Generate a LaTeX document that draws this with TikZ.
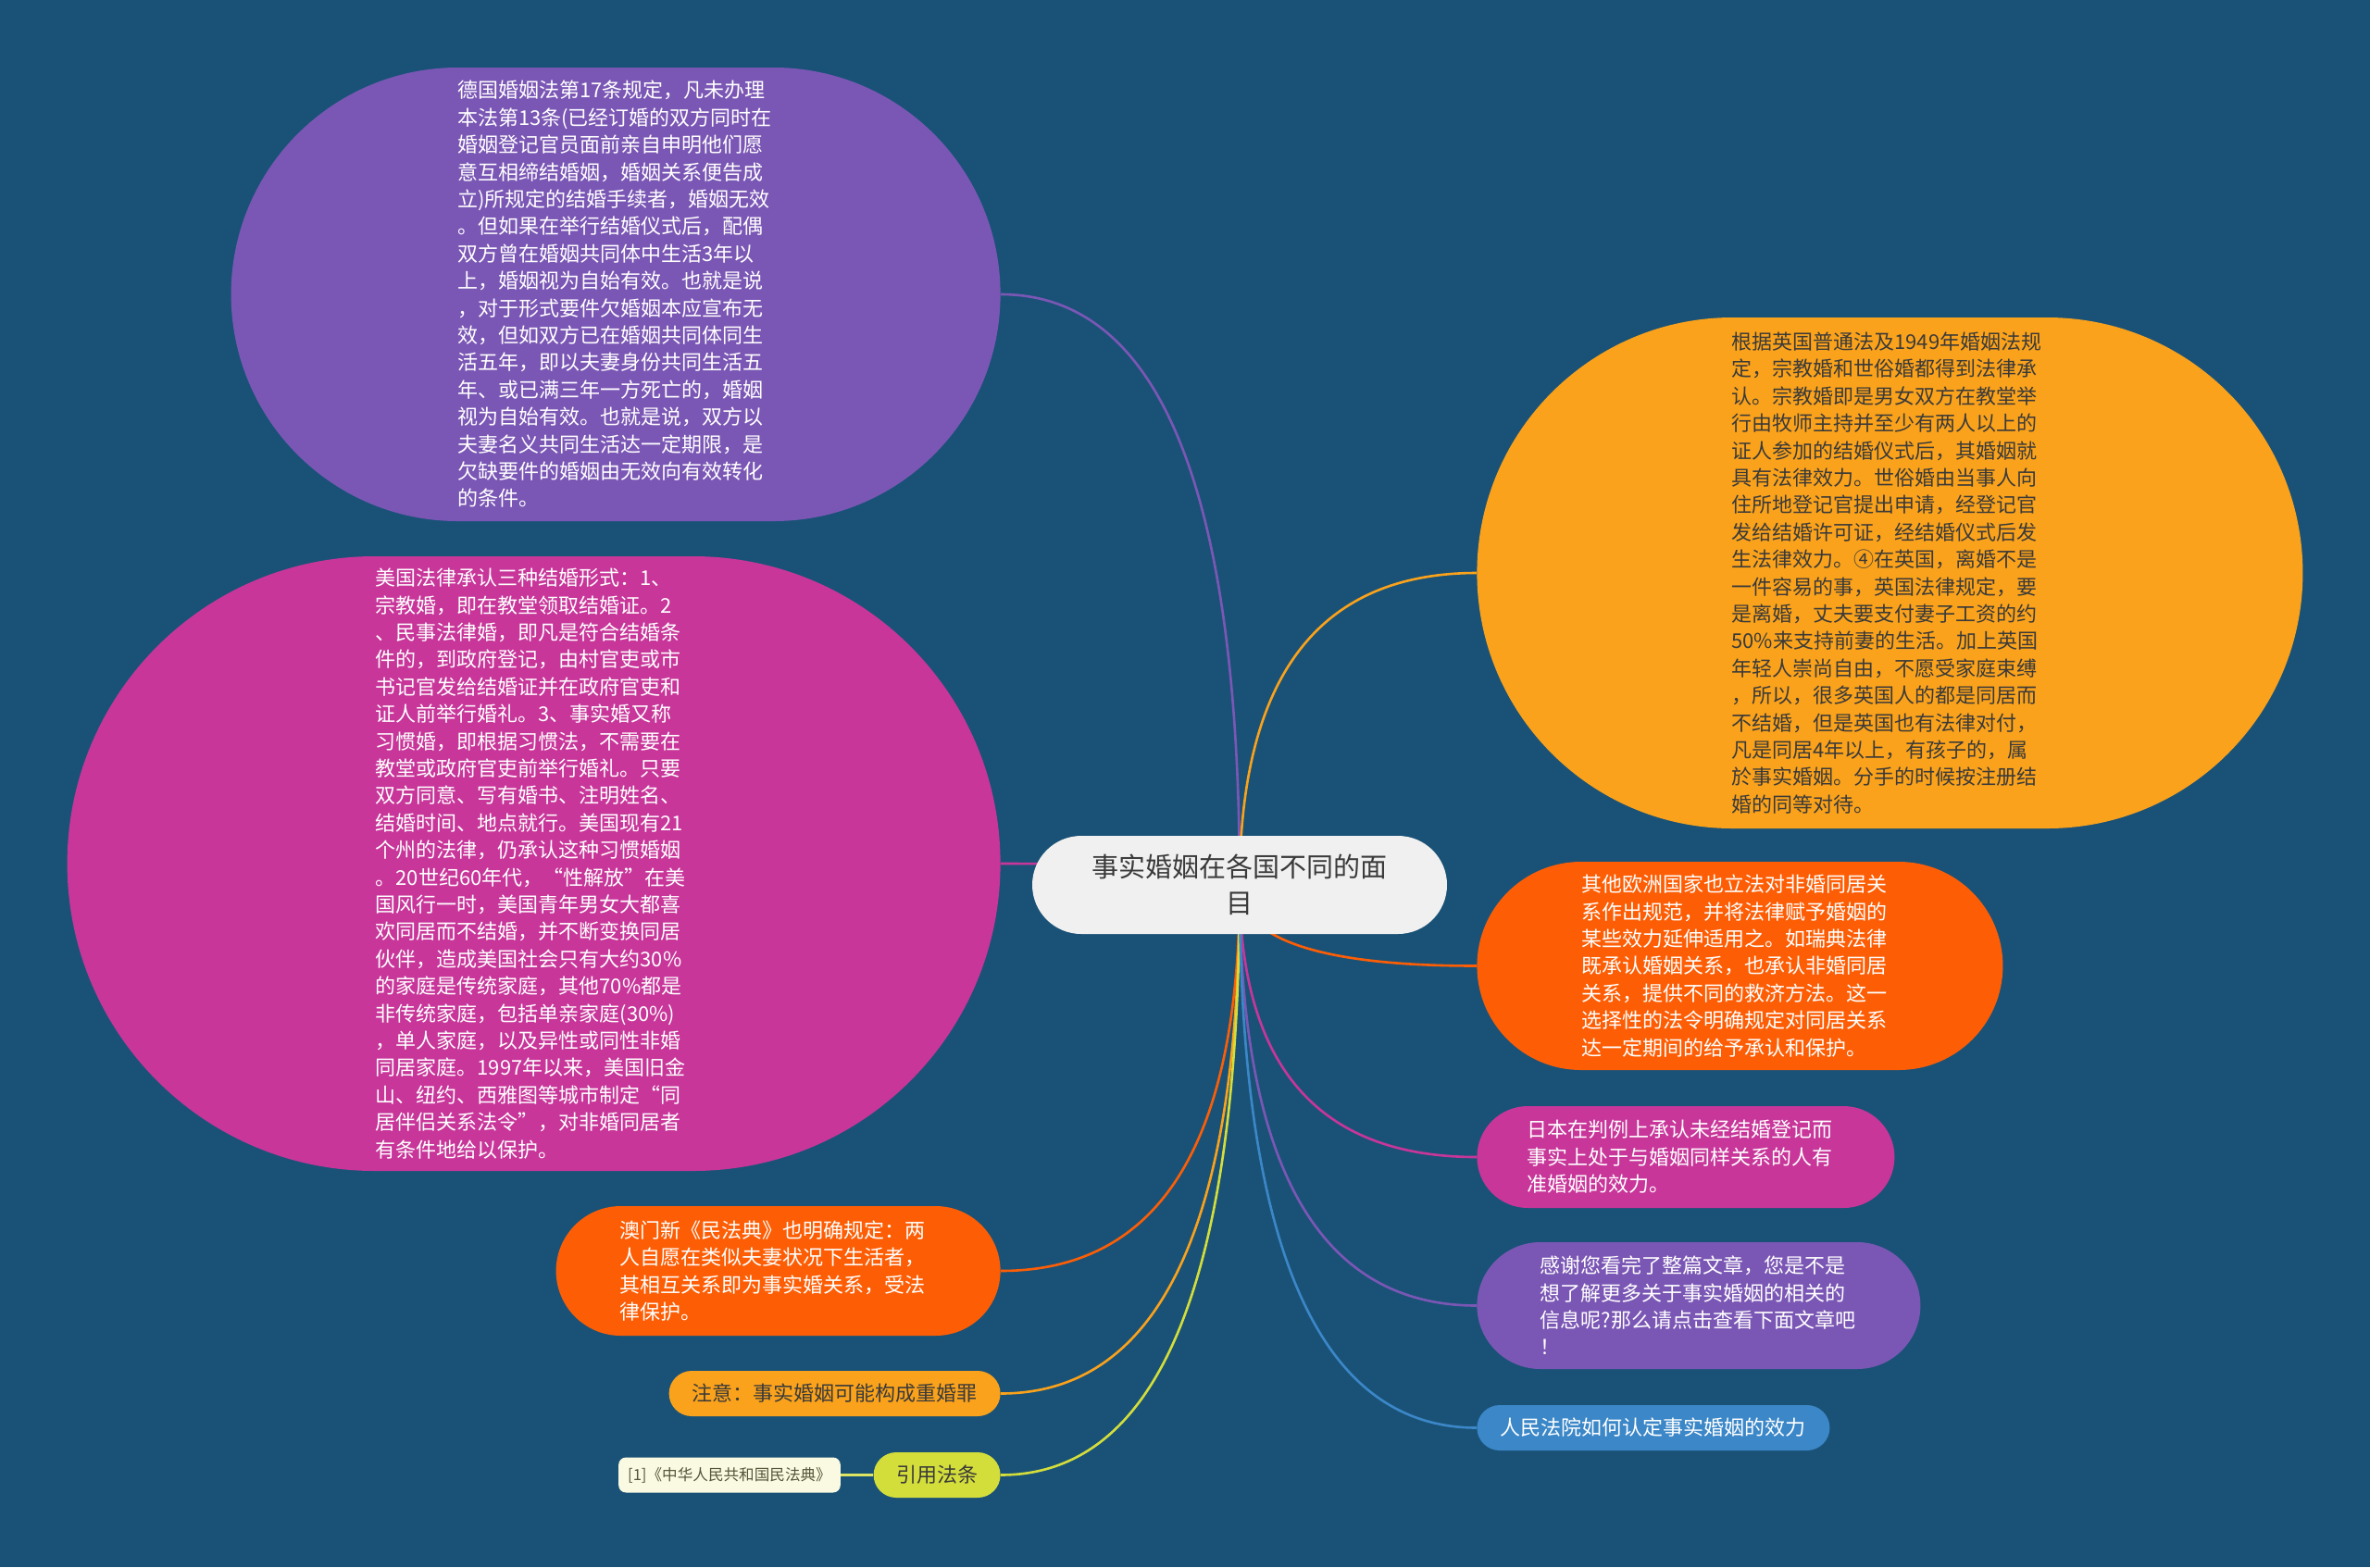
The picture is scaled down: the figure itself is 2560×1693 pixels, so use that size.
\documentclass[tikz,border=0pt]{standalone}
\usepackage{fontspec}
\setmainfont{Noto Sans CJK SC}
\usepackage{tikz}
\usetikzlibrary{shapes.misc,positioning,calc,backgrounds}
\definecolor{bgblue}{HTML}{1A5277}
\definecolor{mmpurple}{HTML}{7B57B5}
\definecolor{mmmagenta}{HTML}{C8369A}
\definecolor{mmamber}{HTML}{FAA21B}
\definecolor{mmorange}{HTML}{FD5E05}
\definecolor{mmblue}{HTML}{3B87C8}
\definecolor{mmlime}{HTML}{D4DE3B}
\definecolor{mmcream}{HTML}{FAFAE2}
\definecolor{darktext}{HTML}{3A3A3A}
\definecolor{citetext}{HTML}{55553A}
\tikzset{
  maintopic/.style={rounded rectangle,fill=black!6,text=darktext,
    inner xsep=0pt,inner ysep=2pt,text width=171pt,align=center,
    minimum height=53pt,minimum width=224pt,
    font=\fontsize{14.5pt}{19.6pt}\selectfont},
  topic/.style={rounded rectangle,fill=#1,text=white,
    inner xsep=0pt,inner ysep=2pt,text width=171pt,align=left,
    font=\fontsize{11pt}{14.7pt}\selectfont},
  pill/.style={rounded rectangle,fill=#1,text=white,
    inner xsep=0pt,inner ysep=2pt,minimum height=24.5pt,
    font=\fontsize{11pt}{14.7pt}\selectfont},
  branch/.style={line width=1.3pt,draw=#1}
}

\begin{document}
\begin{tikzpicture}[x=0.5pt,y=-0.5pt,
  citebox/.style={rectangle,rounded corners=4pt,fill=mmcream,text=citetext,
    inner xsep=5pt,minimum height=19pt,font=\fontsize{8.3pt}{10pt}\selectfont},
  citelink/.style={line width=1.3pt,draw=mmlime!80!white}
]
  \useasboundingbox (0,0) rectangle (2560,1693);
  \node[maintopic] (root) at (1339,956) {事实婚姻在各国不同的面\\目};
  % left branches
  \node[topic=mmpurple,anchor=east,minimum height=245pt,minimum width=415.5pt] (germany) at (1081,318)
    {德国婚姻法第17条规定，凡未办理\\本法第13条(已经订婚的双方同时在\\婚姻登记官员面前亲自申明他们愿\\意互相缔结婚姻，婚姻关系便告成\\立)所规定的结婚手续者，婚姻无效\\。但如果在举行结婚仪式后，配偶\\双方曾在婚姻共同体中生活3年以\\上，婚姻视为自始有效。也就是说\\，对于形式要件欠婚姻本应宣布无\\效，但如双方已在婚姻共同体同生\\活五年，即以夫妻身份共同生活五\\年、或已满三年一方死亡的，婚姻\\视为自始有效。也就是说，双方以\\夫妻名义共同生活达一定期限，是\\欠缺要件的婚姻由无效向有效转化\\的条件。};
  \node[topic=mmmagenta,anchor=east,minimum height=332pt,minimum width=504pt] (usa) at (1081,933)
    {美国法律承认三种结婚形式：1、\\宗教婚，即在教堂领取结婚证。2\\、民事法律婚，即凡是符合结婚条\\件的，到政府登记，由村官吏或市\\书记官发给结婚证并在政府官吏和\\证人前举行婚礼。3、事实婚又称\\习惯婚，即根据习惯法，不需要在\\教堂或政府官吏前举行婚礼。只要\\双方同意、写有婚书、注明姓名、\\结婚时间、地点就行。美国现有21\\个州的法律，仍承认这种习惯婚姻\\。20世纪60年代，“性解放”在美\\国风行一时，美国青年男女大都喜\\欢同居而不结婚，并不断变换同居\\伙伴，造成美国社会只有大约30\%\\的家庭是传统家庭，其他70\%都是\\非传统家庭，包括单亲家庭(30\%)\\，单人家庭，以及异性或同性非婚\\同居家庭。1997年以来，美国旧金\\山、纽约、西雅图等城市制定“同\\居伴侣关系法令”，对非婚同居者\\有条件地给以保护。};
  \node[topic=mmorange,anchor=east,minimum height=70pt,minimum width=240pt] (macau) at (1081,1373)
    {澳门新《民法典》也明确规定：两\\人自愿在类似夫妻状况下生活者，\\其相互关系即为事实婚关系，受法\\律保护。};
  \node[pill=mmamber,text=darktext,anchor=east,minimum width=179pt] (bigamy) at (1081,1505.5)
    {注意：事实婚姻可能构成重婚罪};
  \node[pill=mmlime,text=darktext,anchor=east,minimum width=68.5pt] (cite) at (1081,1593.5) {引用法条};
  \node[citebox,left=17.5pt of cite] (citation) {[1]《中华人民共和国民法典》};
  % right branches
  \node[topic=mmamber,text=darktext,anchor=west,minimum height=276pt,minimum width=446pt] (britain) at (1595,619)
    {根据英国普通法及1949年婚姻法规\\定，宗教婚和世俗婚都得到法律承\\认。宗教婚即是男女双方在教堂举\\行由牧师主持并至少有两人以上的\\证人参加的结婚仪式后，其婚姻就\\具有法律效力。世俗婚由当事人向\\住所地登记官提出申请，经登记官\\发给结婚许可证，经结婚仪式后发\\生法律效力。④在英国，离婚不是\\一件容易的事，英国法律规定，要\\是离婚，丈夫要支付妻子工资的约\\50\%来支持前妻的生活。加上英国\\年轻人崇尚自由，不愿受家庭束缚\\，所以，很多英国人的都是同居而\\不结婚，但是英国也有法律对付，\\凡是同居4年以上，有孩子的，属\\於事实婚姻。分手的时候按注册结\\婚的同等对待。};
  \node[topic=mmorange,anchor=west,minimum height=112.5pt,minimum width=284pt] (europe) at (1595,1043.5)
    {其他欧洲国家也立法对非婚同居关\\系作出规范，并将法律赋予婚姻的\\某些效力延伸适用之。如瑞典法律\\既承认婚姻关系，也承认非婚同居\\关系，提供不同的救济方法。这一\\选择性的法令明确规定对同居关系\\达一定期间的给予承认和保护。};
  \node[topic=mmmagenta,anchor=west,minimum height=55pt,minimum width=225.5pt] (japan) at (1595,1250)
    {日本在判例上承认未经结婚登记而\\事实上处于与婚姻同样关系的人有\\准婚姻的效力。};
  \node[topic=mmpurple,anchor=west,minimum height=68.5pt,minimum width=239.5pt] (thanks) at (1595,1410.5)
    {感谢您看完了整篇文章，您是不是\\想了解更多关于事实婚姻的相关的\\信息呢?那么请点击查看下面文章吧\\！};
  \node[pill=mmblue,anchor=west,minimum width=190.5pt] (court) at (1595,1542.5) {人民法院如何认定事实婚姻的效力};
  \begin{scope}[on background layer]
    \fill[bgblue] (0,0) rectangle (2560,1693);
    \foreach \kid/\side/\hue in {germany/east/mmpurple,usa/east/mmmagenta,
        macau/east/mmorange,bigamy/east/mmamber,cite/east/mmlime,
        britain/west/mmamber,europe/west/mmorange,japan/west/mmmagenta,
        thanks/west/mmpurple,court/west/mmblue}
      \draw[branch=\hue] (root.center)
        .. controls ($(root.center)!2/3!(root.center |- \kid.\side)$)
        and ($(\kid.\side)!2/3!(root.center |- \kid.\side)$) .. (\kid.\side);
    \draw[citelink] (citation) -- (cite);
  \end{scope}
\end{tikzpicture}
\end{document}
